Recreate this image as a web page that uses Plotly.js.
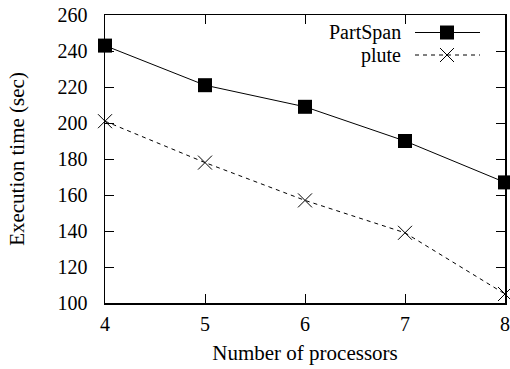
<!DOCTYPE html>
<html>
<head>
<meta charset="utf-8">
<script src="https://cdn.plot.ly/plotly-3.0.1.min.js"></script>
<style>html,body{margin:0;padding:0;background:#fff;}#chart{width:510px;height:369px;}</style>
</head>
<body>
<div id="chart"></div>
<script>
var processors = [4, 5, 6, 7, 8];
var partSpan = [243, 221, 209, 190, 167];
var plute = [201, 178, 157, 139, 105];
var seriesNames = ["PartSpan", "plute"];
var yTicks = [100, 120, 140, 160, 180, 200, 220, 240, 260];

var FONT = "'Liberation Serif', 'Times New Roman', Times, serif";
var FS = 20;

// legend key geometry (paper coords)
var keyTextX = 0.7425, keyX0 = 0.775, keyX1 = 0.9375, keyMid = 0.855;
var keyY = [0.9392, 0.8611];

var traces = [
  {x: processors, y: partSpan, name: seriesNames[0], type: "scatter", mode: "lines+markers",
   line: {color: "#000", width: 1}, marker: {symbol: "square", size: 14, color: "#000"},
   cliponaxis: false, showlegend: false},
  {x: processors, y: plute, name: seriesNames[1], type: "scatter", mode: "lines+markers",
   line: {color: "#000", width: 1, dash: "4px,4px"},
   marker: {symbol: "x-thin-open", size: 14, color: "#000", line: {color: "#000", width: 1}},
   cliponaxis: false, showlegend: false},
  {x: [keyMid], y: [keyY[0]], xaxis: "x2", yaxis: "y2", type: "scatter", mode: "markers",
   marker: {symbol: "square", size: 14, color: "#000"}, showlegend: false, hoverinfo: "skip", cliponaxis: false},
  {x: [keyMid], y: [keyY[1]], xaxis: "x2", yaxis: "y2", type: "scatter", mode: "markers",
   marker: {symbol: "x-thin-open", size: 14, color: "#000", line: {color: "#000", width: 1}},
   showlegend: false, hoverinfo: "skip", cliponaxis: false}
];

var layout = {
  width: 510, height: 369,
  margin: {l: 105, r: 5, t: 15, b: 66},
  paper_bgcolor: "#fff", plot_bgcolor: "#fff",
  font: {family: FONT, size: FS, color: "#000"},
  showlegend: false,
  xaxis: {
    range: [4, 8], tickvals: processors, ticks: "inside", ticklen: 9, tickwidth: 1, tickcolor: "#000",
    showline: true, linecolor: "#000", linewidth: 1.5, mirror: "allticks", showgrid: false, zeroline: false,
    tickfont: {family: FONT, size: FS}, ticklabelstandoff: 2,
    title: {text: "Number of processors", font: {family: FONT, size: 21}, standoff: 12}
  },
  yaxis: {
    range: [100, 260], tickvals: yTicks, ticks: "inside", ticklen: 9, tickwidth: 1, tickcolor: "#000",
    showline: true, linecolor: "#000", linewidth: 1.5, mirror: "allticks", showgrid: false, zeroline: false,
    tickfont: {family: FONT, size: FS}, ticklabelstandoff: 12,
    title: {text: "Execution time (sec)", font: {family: FONT, size: 21}, standoff: 27}
  },
  xaxis2: {overlaying: "x", range: [0, 1], visible: false, fixedrange: true},
  yaxis2: {overlaying: "y", range: [0, 1], visible: false, fixedrange: true},
  shapes: [
    {type: "line", xref: "paper", yref: "paper", x0: keyX0, x1: keyX1, y0: keyY[0], y1: keyY[0],
     line: {color: "#000", width: 1}},
    {type: "line", xref: "paper", yref: "paper", x0: keyX0, x1: keyX1, y0: keyY[1], y1: keyY[1],
     line: {color: "#000", width: 1, dash: "4px,4px"}}
  ],
  annotations: [
    {text: seriesNames[0], xref: "paper", yref: "paper", x: keyTextX, y: keyY[0], xanchor: "right", yanchor: "middle",
     showarrow: false, borderpad: 0, font: {family: FONT, size: 20}},
    {text: seriesNames[1], xref: "paper", yref: "paper", x: keyTextX, y: keyY[1], xanchor: "right", yanchor: "middle",
     showarrow: false, borderpad: 0, font: {family: FONT, size: 20}}
  ]
};

Plotly.newPlot("chart", traces, layout, {staticPlot: true, displayModeBar: false});
</script>
</body>
</html>
